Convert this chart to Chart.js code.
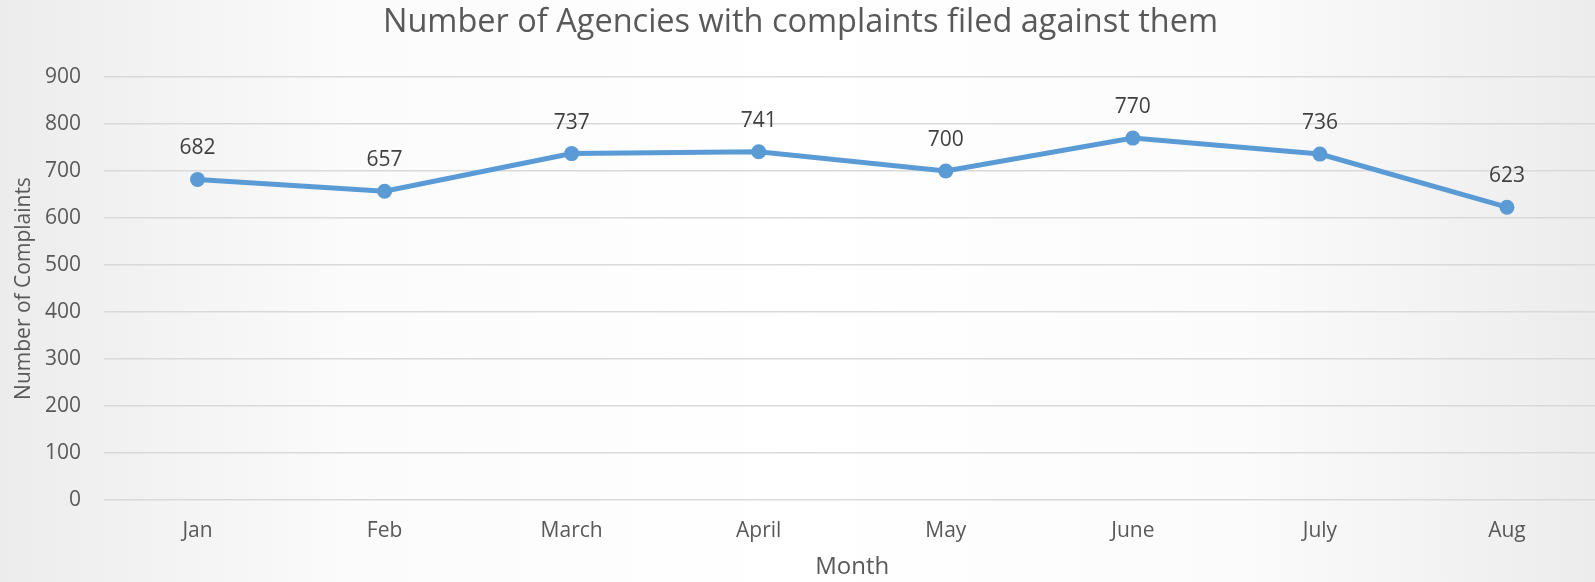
<!DOCTYPE html>
<html>
<head>
<meta charset="utf-8">
<script src="https://cdn.jsdelivr.net/npm/chart.js@4"></script>
<style>
  html, body { margin: 0; padding: 0; }
  body {
    width: 1595px; height: 582px; overflow: hidden;
    background: linear-gradient(to right, #ececec 0%, #fbfbfb 22%, #ffffff 50%, #fbfbfb 78%, #ececec 100%);
  }
  /* plot runs a few px past the window edge, like the original;
     shifted left so the title stays centred on the window */
  #wrap { width: 1619px; height: 582px; position: relative; margin-left: -11px; }
</style>
</head>
<body>
<div id="wrap"><canvas id="chart"></canvas></div>
<script>
// data
const months = ["Jan", "Feb", "March", "April", "May", "June", "July", "Aug"];
const complaints = [682, 657, 737, 741, 700, 770, 736, 623];
const yTicks = [0, 100, 200, 300, 400, 500, 600, 700, 800, 900];

const FONT = "'Open Sans', 'Liberation Sans', sans-serif";

// value labels above each point
const pointLabels = {
  id: "pointLabels",
  afterDatasetsDraw(chart) {
    const ctx = chart.ctx;
    const meta = chart.getDatasetMeta(0);
    ctx.save();
    ctx.font = "21px " + FONT;
    ctx.fillStyle = "#404040";
    ctx.textAlign = "center";
    ctx.textBaseline = "middle";
    meta.data.forEach((pt, i) => {
      ctx.fillText(String(complaints[i]), pt.x, pt.y - 31);
    });
    ctx.restore();
  },
};

new Chart(document.getElementById("chart").getContext("2d"), {
  type: "line",
  data: {
    labels: months,
    datasets: [{
      data: complaints,
      borderColor: "#5b9bd5",
      backgroundColor: "#5b9bd5",
      borderWidth: 5,
      pointRadius: 7.5,
      pointHoverRadius: 7.5,
      pointBorderWidth: 0,
      tension: 0,
    }],
  },
  options: {
    responsive: true,
    maintainAspectRatio: false,
    animation: false,
    layout: { padding: { top: 0, right: 0, bottom: 0, left: 4 } },
    plugins: {
      legend: { display: false },
      tooltip: { enabled: false },
      title: {
        display: true,
        text: "Number of Agencies with complaints filed against them",
        color: "#595959",
        font: { family: FONT, size: 32.5, weight: "normal" },
        padding: { top: 3, bottom: 35 },
      },
    },
    scales: {
      x: {
        offset: true,
        grid: { display: false, drawTicks: false },
        border: { display: false },
        ticks: { color: "#595959", font: { family: FONT, size: 21 }, padding: 18 },
        title: {
          display: true, text: "Month", color: "#595959",
          font: { family: FONT, size: 24 }, padding: { top: 0, bottom: 0 },
        },
        afterFit(axis) { axis.height = 82; },
      },
      y: {
        min: 0, max: 900,
        afterBuildTicks(axis) { axis.ticks = yTicks.map((v) => ({ value: v })); },
        grid: { color: "#d9d9d9", lineWidth: 1.5, drawTicks: false },
        border: { display: false },
        ticks: { color: "#595959", font: { family: FONT, size: 21 }, padding: 23 },
        title: {
          display: true, text: "Number of Complaints", color: "#595959",
          font: { family: FONT, size: 21 }, padding: { top: 18, bottom: 0 },
        },
        afterFit(axis) { axis.width = 111; },
      },
    },
  },
  plugins: [pointLabels],
});
</script>
</body>
</html>
